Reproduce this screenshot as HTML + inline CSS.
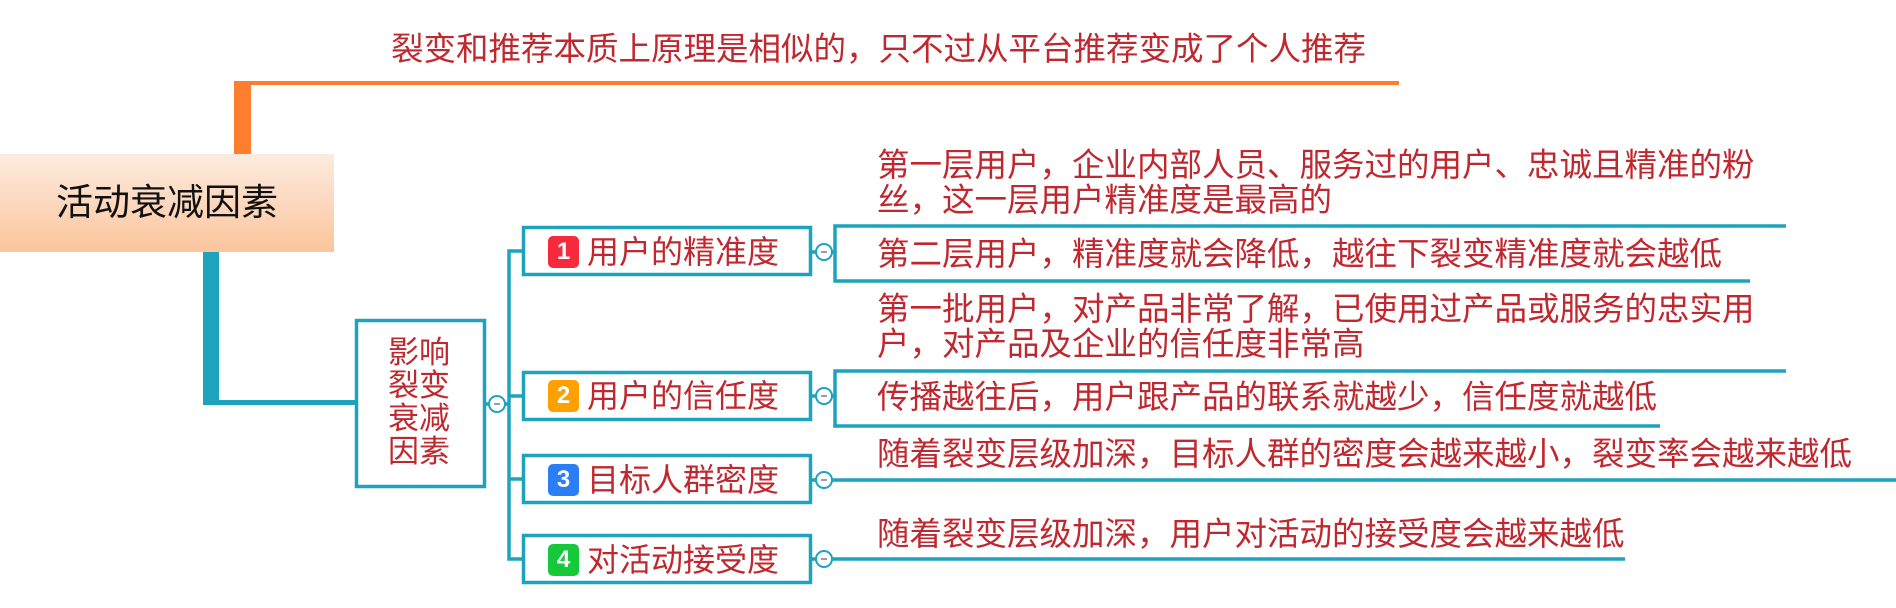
<!DOCTYPE html>
<html><head><meta charset="utf-8"><style>
body{margin:0;background:#fff;width:1896px;height:608px;overflow:hidden;position:relative;font-family:"Liberation Sans","Noto Sans CJK SC",sans-serif}
.t{position:absolute;color:#c0282f;white-space:nowrap;line-height:1}
.d{font-size:32.5px}
.badge{position:absolute;width:31px;height:32px;border-radius:5px;color:#fff;font-size:24px;text-align:center;line-height:32px;font-weight:bold}
</style></head><body>
<svg width="1896" height="608" style="position:absolute;left:0;top:0">
<defs><linearGradient id="g" x1="0" y1="0" x2="0" y2="1"><stop offset="0" stop-color="#fdebe0"/><stop offset="1" stop-color="#fbc59c"/></linearGradient></defs>
<g fill="#fd7e2e"><rect x="234" y="81" width="1165" height="4"/><rect x="234" y="81" width="17" height="74"/></g>
<rect x="0" y="154" width="334" height="98" fill="url(#g)"/>
<g fill="#1ea3be"><rect x="203" y="252" width="16" height="152"/><rect x="203" y="400" width="152" height="5"/></g>
<g fill="none" stroke="#1ea3be" stroke-width="3.5">
<rect x="356.5" y="320.5" width="128" height="166" fill="#fff"/>
<line x1="485" y1="404" x2="489" y2="404"/><line x1="505" y1="404" x2="509" y2="404"/>
<polyline points="522,251 509,251 509,559 522,559"/>
<line x1="509" y1="396" x2="522" y2="396"/><line x1="509" y1="479" x2="522" y2="479"/>
<rect x="523.5" y="227.5" width="287" height="47" fill="#fff"/>
<rect x="523.5" y="372.5" width="287" height="47" fill="#fff"/>
<rect x="523.5" y="455.5" width="287" height="47" fill="#fff"/>
<rect x="523.5" y="535.5" width="287" height="47" fill="#fff"/>
<line x1="812" y1="252" x2="816" y2="252"/><line x1="812" y1="396" x2="816" y2="396"/><line x1="812" y1="480" x2="816" y2="480"/><line x1="812" y1="559" x2="816" y2="559"/>
<polyline points="1786,226 835,226 835,281 1750,281"/>
<polyline points="1786,371 835,371 835,426 1660,426"/>
<line x1="832" y1="252" x2="835" y2="252"/><line x1="832" y1="396" x2="835" y2="396"/>
<line x1="832" y1="480" x2="1896" y2="480"/>
<line x1="832" y1="559" x2="1625" y2="559"/>
</g>
<g fill="#fff" stroke="#1ea3be" stroke-width="2">
<circle cx="497" cy="404" r="8"/><circle cx="824" cy="252" r="8"/><circle cx="824" cy="396" r="8"/><circle cx="824" cy="480" r="8"/><circle cx="824" cy="559" r="8"/>
</g>
<g stroke="#6a7fa8" stroke-width="1.5"><line x1="494" y1="404" x2="500" y2="404"/><line x1="821" y1="252" x2="827" y2="252"/><line x1="821" y1="396" x2="827" y2="396"/><line x1="821" y1="480" x2="827" y2="480"/><line x1="821" y1="559" x2="827" y2="559"/></g>
</svg>
<div class="t" style="left:391px;top:33px;font-size:32.5px">裂变和推荐本质上原理是相似的，只不过从平台推荐变成了个人推荐</div>
<div class="t" style="left:56px;top:184px;font-size:37px;color:#111">活动衰减因素</div>
<div class="t" style="left:388px;top:336px;font-size:31px;line-height:33px;white-space:normal;width:64px">影响裂变衰减因素</div>
<div class="badge" style="left:548px;top:236px;background:#f7293d">1</div>
<div class="badge" style="left:548px;top:380px;background:#fda000">2</div>
<div class="badge" style="left:548px;top:464px;background:#2b7ef6">3</div>
<div class="badge" style="left:548px;top:544px;background:#16c93a">4</div>
<div class="t" style="left:587px;top:236px;font-size:32px">用户的精准度</div>
<div class="t" style="left:587px;top:380px;font-size:32px">用户的信任度</div>
<div class="t" style="left:587px;top:464px;font-size:32px">目标人群密度</div>
<div class="t" style="left:587px;top:544px;font-size:32px">对活动接受度</div>
<div class="t d" style="left:877px;top:149px">第一层用户，企业内部人员、服务过的用户、忠诚且精准的粉</div>
<div class="t d" style="left:877px;top:184px">丝，这一层用户精准度是最高的</div>
<div class="t d" style="left:877px;top:238px">第二层用户，精准度就会降低，越往下裂变精准度就会越低</div>
<div class="t d" style="left:877px;top:293px">第一批用户，对产品非常了解，已使用过产品或服务的忠实用</div>
<div class="t d" style="left:877px;top:328px">户，对产品及企业的信任度非常高</div>
<div class="t d" style="left:877px;top:381px">传播越往后，用户跟产品的联系就越少，信任度就越低</div>
<div class="t d" style="left:877px;top:438px">随着裂变层级加深，目标人群的密度会越来越小，裂变率会越来越低</div>
<div class="t d" style="left:877px;top:518px">随着裂变层级加深，用户对活动的接受度会越来越低</div>
</body></html>
